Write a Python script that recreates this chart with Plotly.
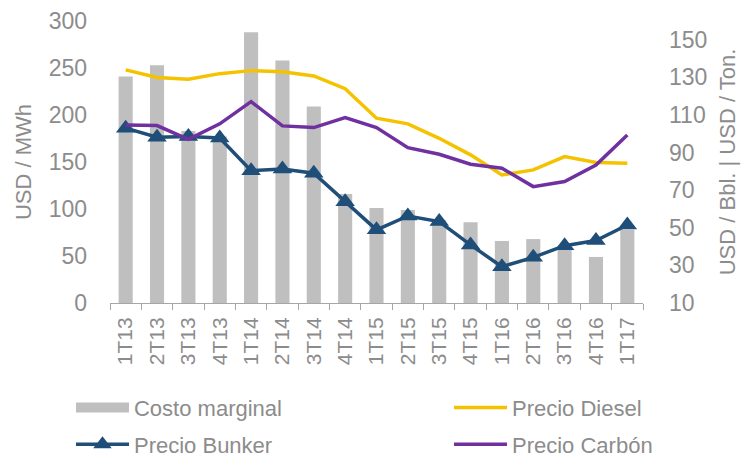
import plotly.graph_objects as go

categories = ["1T13", "2T13", "3T13", "4T13", "1T14", "2T14", "3T14", "4T14",
              "1T15", "2T15", "3T15", "4T15", "1T16", "2T16", "3T16", "4T16", "1T17"]
costo_marginal = [241, 253, 183, 177, 288, 258, 209, 116, 101, 99, 88, 86, 66, 68, 58, 49, 78]
precio_diesel = [134, 130, 129, 132, 133.6, 133, 130.8, 124, 108.3, 105.3, 97.6, 88.8, 78.1, 80.8, 87.9, 84.7, 84.3]
precio_bunker = [103, 98.2, 98.5, 97.8, 80.4, 81.3, 79, 63.9, 48.9, 56.3, 53.3, 40.9, 29.3, 34.3, 40.5, 43.2, 51.5]
precio_carbon = [104.7, 104.4, 97.1, 105.3, 117.1, 104.2, 103.3, 108.6, 103.3, 92.6, 89.1, 83.8, 81.7, 71.9, 74.6, 83.4, 99.4]

left_ticks = [0, 50, 100, 150, 200, 250, 300]
right_ticks = [10, 30, 50, 70, 90, 110, 130, 150]

FONT = "Liberation Sans"
GREY = "#8c8c8c"
BAR = "#bfbfbf"

fig = go.Figure()
fig.add_trace(go.Bar(x=categories, y=costo_marginal, name="Costo marginal",
                     marker=dict(color=BAR, line=dict(width=0)), yaxis="y", showlegend=False))
# legend-only entry for the bars (wide swatch like the reference)
fig.add_trace(go.Scatter(x=[None], y=[None], name="Costo marginal", mode="lines",
                         line=dict(color=BAR, width=12), legend="legend", legendgroup="a"))
fig.add_trace(go.Scatter(x=categories, y=precio_diesel, name="Precio Diesel", mode="lines",
                         line=dict(color="#f5c200", width=3.5), yaxis="y2",
                         legend="legend2", legendgroup="b"))
fig.add_trace(go.Scatter(x=categories, y=precio_bunker, name="Precio Bunker", mode="lines+markers",
                         line=dict(color="#1f4e79", width=3.5),
                         marker=dict(symbol="triangle-up", size=17, color="#1f4e79"), yaxis="y2",
                         legend="legend", legendgroup="c"))
fig.add_trace(go.Scatter(x=categories, y=precio_carbon, name="Precio Carbón", mode="lines",
                         line=dict(color="#7030a0", width=3.5), yaxis="y2",
                         legend="legend2", legendgroup="d"))

legend_common = dict(orientation="v", yanchor="top", xanchor="left", y=-0.297,
                     font=dict(family=FONT, size=22, color=GREY),
                     tracegroupgap=5, itemwidth=53, bgcolor="rgba(0,0,0,0)")

fig.update_layout(
    width=746, height=451,
    margin=dict(l=102, r=111, t=13, b=156, autoexpand=False),
    paper_bgcolor="white", plot_bgcolor="white",
    font=dict(family=FONT, color=GREY),
    bargap=0.55,
    showlegend=True,
    legend=dict(x=-0.0732, **legend_common),
    legend2=dict(x=0.636, **legend_common),
    xaxis=dict(type="category", range=[-0.5, 16.5], showgrid=False, showline=True,
               linecolor="#a6a6a6", linewidth=1,
               ticks="outside", tickson="boundaries", ticklen=6, tickcolor="#a6a6a6",
               ticklabelstandoff=5,
               tickangle=-90, tickfont=dict(family=FONT, size=21, color=GREY), automargin=False),
    yaxis=dict(range=[0, 300], tickvals=left_ticks, showgrid=False, zeroline=False, showline=False,
               ticks="", ticklabelstandoff=22, automargin=False,
               tickfont=dict(family=FONT, size=23, color=GREY),
               title=dict(text="USD / MWh", font=dict(family=FONT, size=22, color=GREY), standoff=10)),
    yaxis2=dict(range=[10, 160], tickvals=right_ticks, overlaying="y", side="right",
                showgrid=False, zeroline=False, showline=False, ticks="", ticklabelstandoff=25,
                automargin=False,
                tickfont=dict(family=FONT, size=23, color=GREY),
                title=dict(text="USD / Bbl. | USD / Ton.", font=dict(family=FONT, size=22, color=GREY), standoff=13)),
)

fig.write_html("out.html")
